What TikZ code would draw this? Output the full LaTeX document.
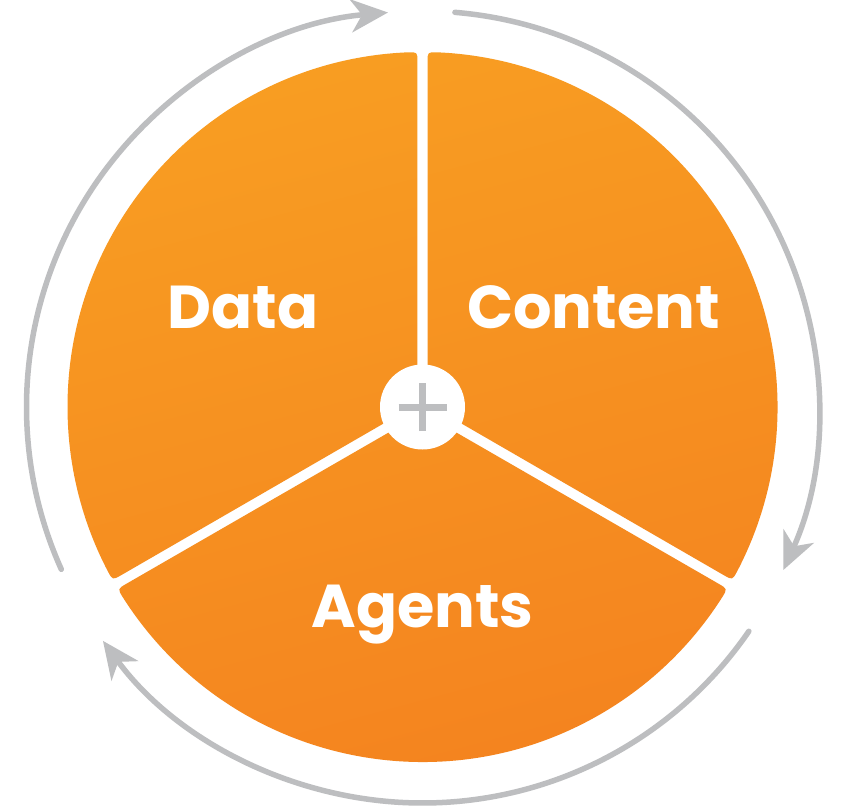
\documentclass[tikz,border=0pt]{standalone}
\usepackage{fontspec}
\setmainfont{Poppins}
\usetikzlibrary{calc,arrows.meta}
\definecolor{ringgray}{HTML}{BDBEC0}
\definecolor{orangetop}{HTML}{F89D22}
\definecolor{orangebot}{HTML}{F4821F}
\tikzset{
  ring/.style={draw=ringgray, line width=5.5, line cap=round, -{Stealth[length=37pt,width=33pt,inset=11pt]}},
  label/.style={anchor=base, text=white, font=\fontsize{60.5}{60.5}\selectfont\bfseries, inner sep=0},
}
% sector between angles #1 (start) and #2 (end), ccw
\newcommand{\sectorpath}[2]{%
  ($({(#1+#2)/2}:6)$) -- ($(#1+0.81:355)+(#1+180:10)$)
  .. controls (#1+0.81:355) .. (#1+2.42:355)
  arc[start angle=#1+2.42, end angle=#2-2.42, radius=355]
  .. controls (#2-0.81:355) .. ($(#2-0.81:355)+(#2+180:10)$) -- cycle
}
\begin{document}
\begin{tikzpicture}[x=1pt,y=1pt]
\useasboundingbox (-422.5,-400) rectangle (422.5,407);
\fill[white] (-422.5,-400) rectangle (422.5,407);
% orange sectors
\shade[shading=axis, top color=orangetop, bottom color=orangebot, shading angle=15]
  \sectorpath{-30}{90} \sectorpath{90}{210} \sectorpath{210}{330};
% centre hub
\node[circle, fill=white, minimum size=85, inner sep=0] (hub) at (0,0) {};
\draw[ringgray, line width=7] ($(hub.center)+(-24,0)$) -- ($(hub.center)+(24,0)$);
\draw[ringgray, line width=7] ($(hub.center)+(0,-24)$) -- ($(hub.center)+(0,24)$);
% labels
\node[label] (data) at (-179.5,79) {Data};
\node[label] (content) at (171,79) {Content};
\node[label] (agents) at (0,-220) {Agents};
% cycle arrows
\coordinate (l0) at (204.2:396);
\coordinate (r0) at (85.3:396);
\coordinate (b0) at (-34.5:396);
\draw[ring] (l0) arc[start angle=204.2, end angle=95, radius=396];
\draw[ring] (r0) arc[start angle=85.3, end angle=-24.3, radius=396];
\draw[ring] (b0) arc[start angle=-34.5, end angle=-143.8, radius=396];
\end{tikzpicture}
\end{document}
